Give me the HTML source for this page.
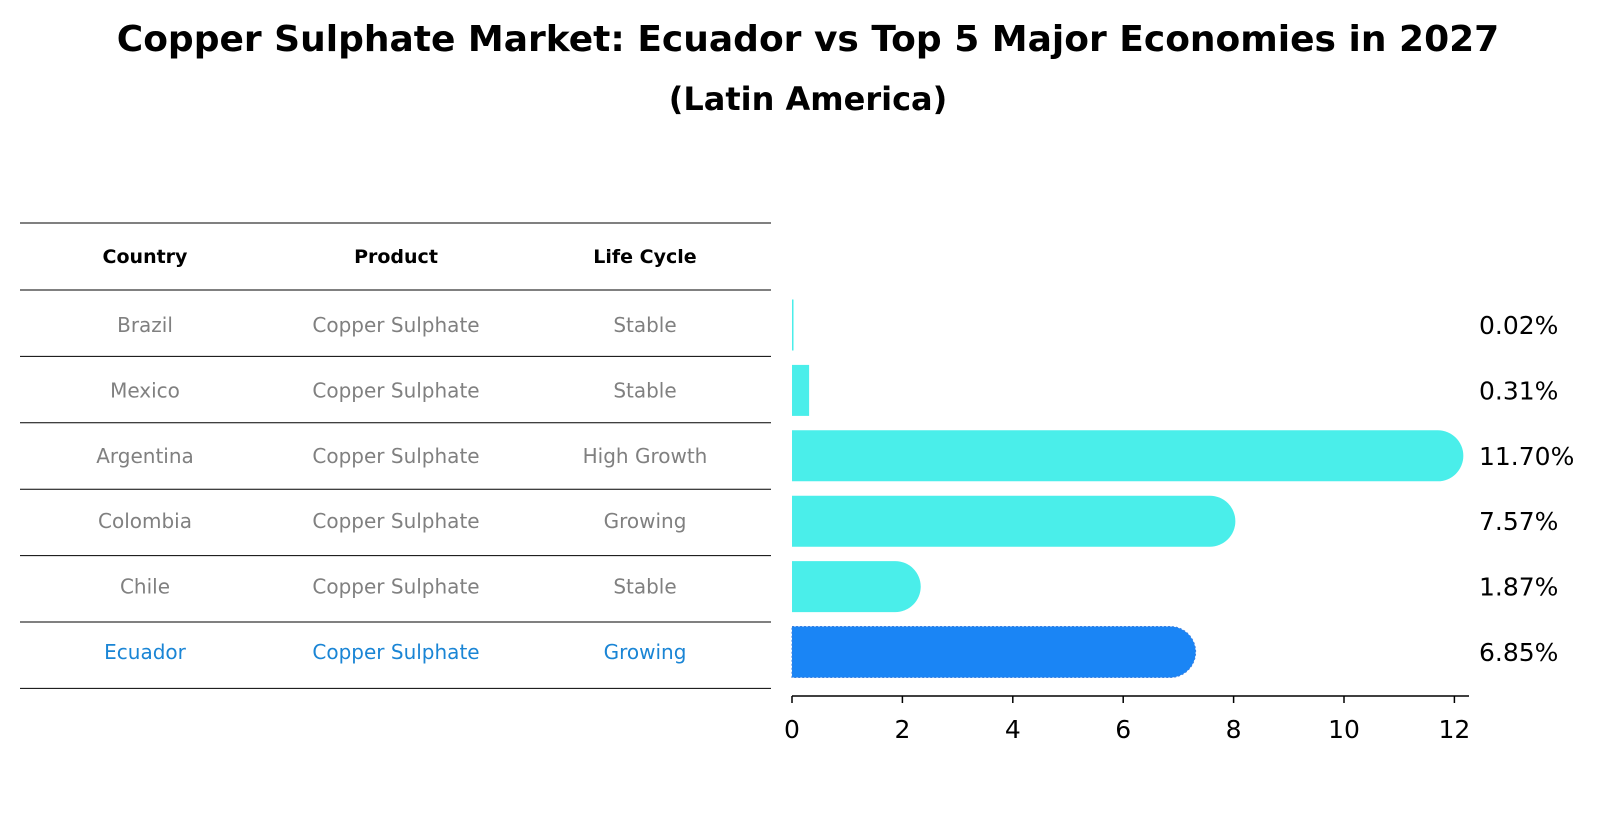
<!DOCTYPE html>
<html><head><meta charset="utf-8"><style>
body{margin:0;background:#fff;font-family:"DejaVu Sans","Liberation Sans",sans-serif;}
</style></head><body>
<svg width="1604" height="823" viewBox="0 0 1604 823" xmlns="http://www.w3.org/2000/svg">
<text x="808" y="51" text-anchor="middle" font-size="36" font-weight="bold">Copper Sulphate Market: Ecuador vs Top 5 Major Economies in 2027</text>
<text x="808" y="110" text-anchor="middle" font-size="32" font-weight="bold">(Latin America)</text>
<g id="table"></g>
<g id="bars"></g>
</svg>
<script>
const countries=["Brazil","Mexico","Argentina","Colombia","Chile","Ecuador"];
const products=["Copper Sulphate","Copper Sulphate","Copper Sulphate","Copper Sulphate","Copper Sulphate","Copper Sulphate"];
const lifeCycles=["Stable","Stable","High Growth","Growing","Stable","Growing"];
const values=[0.02,0.31,11.70,7.57,1.87,6.85];
const valueLabels=["0.02%","0.31%","11.70%","7.57%","1.87%","6.85%"];
const ticks=[0,2,4,6,8,10,12];
const NS="http://www.w3.org/2000/svg";
function mk(tag,attrs,parent,text){const e=document.createElementNS(NS,tag);for(const k in attrs)e.setAttribute(k,attrs[k]);if(text!==undefined)e.textContent=text;parent.appendChild(e);return e;}
const X0=792,PX=55.2;
function xs(v){return X0+v*PX;}
function ys(i){return 325+i*65.4;}
const table=document.getElementById('table');
const lineYs=[223,290];
for(let i=0;i<countries.length;i++)lineYs.push(290+(i+1)*66.4);
lineYs.forEach((y,i)=>{const l=mk('line',{x1:20,x2:771,y1:y,y2:y,stroke:'#000','stroke-width':1},table);

});
const cx=[145,396,645];
["Country","Product","Life Cycle"].forEach((h,j)=>{const t=mk('text',{x:cx[j],y:263,'text-anchor':'middle','font-size':19,'font-weight':'bold'},table,h);

});
countries.forEach((c,i)=>{const y=ys(i)+7;const col=c==="Ecuador"?'#1a85d5':'#808080';
[c,products[i],lifeCycles[i]].forEach((s,j)=>{const t=mk('text',{x:cx[j],y:y,'text-anchor':'middle','font-size':20,fill:col},table,s);

});});
const bars=document.getElementById('bars');
const H=51,R=25.5;
values.forEach((v,i)=>{const yc=ys(i);const w=v*PX;const isE=countries[i]==="Ecuador";
const fill=isE?'#1a85f5':'#4aeeea';
let p;
if(w>2*R){p=mk('path',{d:`M${X0},${yc-H/2} H${X0+w} A${R},${R} 0 0 1 ${X0+w},${yc+H/2} H${X0} Z`,fill:fill},bars);}
else{p=mk('rect',{x:X0,y:yc-H/2,width:Math.max(w,1.5),height:H,fill:fill},bars);}
if(isE){p.setAttribute('stroke','#3a7fe0');p.setAttribute('stroke-dasharray','2,2');}


const t=mk('text',{x:1479,y:yc+9,'font-size':25},bars,valueLabels[i]);

});
const ax=mk('line',{x1:X0,x2:1469,y1:696,y2:696,stroke:'#000','stroke-width':1.5},bars);


ticks.forEach(t=>{const l=mk('line',{x1:xs(t),x2:xs(t),y1:696,y2:703,stroke:'#000','stroke-width':1.5},bars);


const tx=mk('text',{x:xs(t),y:738,'text-anchor':'middle','font-size':25},bars,String(t));

});
</script>
</body></html>
